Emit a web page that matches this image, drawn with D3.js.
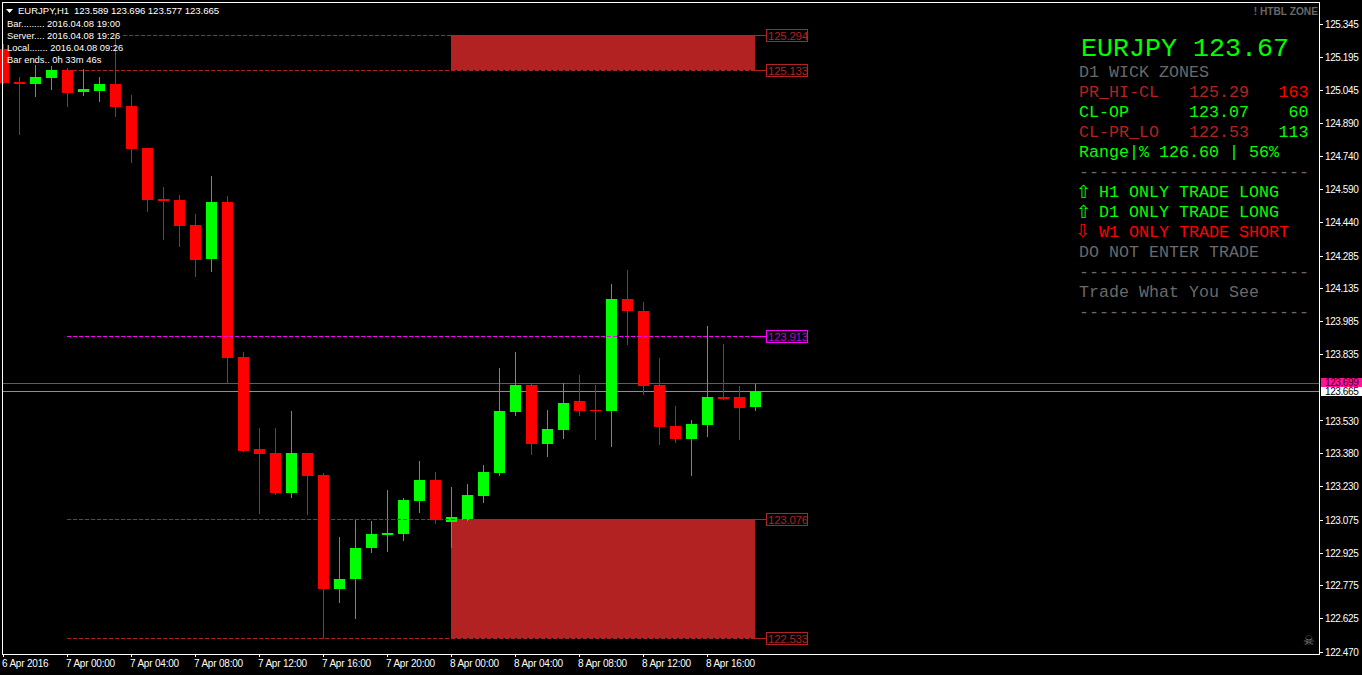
<!DOCTYPE html>
<html>
<head>
<meta charset="utf-8">
<script src="https://cdn.jsdelivr.net/npm/d3@7"></script>
<style>
  html, body { margin: 0; padding: 0; background: #000; overflow: hidden; }
  svg { display: block; }
  text { font-family: "Liberation Sans", Arial, sans-serif; }
  .mono { font-family: "Liberation Mono", "Courier New", monospace; }
</style>
</head>
<body>
<div id="chart"></div>
<script>
// H1 candles
const opens = [125.231,125.079,125.070,125.098,125.134,125.034,125.038,125.070,124.970,124.777,124.544,124.539,
  124.425,124.269,124.530,123.820,123.399,123.381,123.198,123.381,123.280,122.758,122.804,122.942,
  123.006,123.010,123.161,123.257,123.065,123.074,123.184,123.289,123.569,123.692,123.422,123.486,
  123.615,123.578,123.573,124.086,124.031,123.692,123.505,123.445,123.509,123.637,123.637,123.589];
const highs = [125.253,125.102,125.157,125.153,125.144,125.139,125.102,125.285,125.020,124.777,124.599,124.562,
  124.475,124.649,124.558,123.843,123.495,123.495,123.573,123.381,123.289,122.996,123.074,123.070,
  123.212,123.175,123.344,123.294,123.225,123.235,123.322,123.770,123.843,123.697,123.578,123.701,
  123.738,123.692,124.155,124.219,124.072,123.816,123.596,123.528,123.962,123.880,123.688,123.696];
const lows = [125.075,124.841,125.015,125.047,124.970,125.020,124.992,124.924,124.713,124.489,124.361,124.329,
  124.191,124.214,123.701,123.390,123.106,123.193,123.180,123.102,122.534,122.699,122.626,122.928,
  122.932,122.983,123.111,123.061,122.951,123.074,123.157,123.280,123.555,123.376,123.367,123.450,
  123.555,123.441,123.413,123.880,123.651,123.422,123.431,123.280,123.459,123.628,123.445,123.577];
const closes = [125.075,125.070,125.102,125.134,125.029,125.047,125.070,124.965,124.773,124.539,124.535,124.420,
  124.265,124.530,123.816,123.390,123.376,123.198,123.381,123.276,122.758,122.804,122.946,123.010,
  123.015,123.166,123.257,123.074,123.084,123.189,123.294,123.573,123.692,123.422,123.491,123.610,
  123.573,123.573,124.086,124.027,123.688,123.500,123.445,123.514,123.637,123.628,123.587,123.665];

const priceTicks = [125.345,125.195,125.045,124.890,124.740,124.590,124.440,124.285,124.135,123.985,
  123.835,123.530,123.380,123.230,123.075,122.925,122.775,122.625,122.470];
const timeBars = [0,4,8,12,16,20,24,28,32,36,40,44];
const timeLabels = ["6 Apr 2016","7 Apr 00:00","7 Apr 04:00","7 Apr 08:00","7 Apr 12:00","7 Apr 16:00",
  "7 Apr 20:00","8 Apr 00:00","8 Apr 04:00","8 Apr 08:00","8 Apr 12:00","8 Apr 16:00"];

// zones and level lines
const zoneHighs = [125.294, 123.076];
const zoneLows = [125.133, 122.533];
const zoneStartBar = 28;
const zoneEndBar = 47;
const levelPrices = [125.294, 125.133, 123.913, 123.076, 122.533];
const levelStartBars = [7.5, 4, 4, 4, 4];
const bid = 123.665;
const ask = 123.699;

const infoLines = ["Bar......... 2016.04.08 19:00","Server.... 2016.04.08 19:26","Local....... 2016.04.08 09:26","Bar ends.. 0h 33m 46s"];
const dashes = "-----------------------";
const panelTitle = "EURJPY 123.67";
const panelRows = [
  ["D1 WICK ZONES"],
  ["PR_HI-CL","125.29","163"],
  ["CL-OP","123.07","60"],
  ["CL-PR_LO","122.53","113"],
  ["Range|% 126.60 | 56%"],
  [dashes],
  ["H1 ONLY TRADE LONG"],
  ["D1 ONLY TRADE LONG"],
  ["W1 ONLY TRADE SHORT"],
  ["DO NOT ENTER TRADE"],
  [dashes],
  ["Trade What You See"],
  [dashes]
];

const width = 1362;
const height = 675;
const plot = {left: 2, top: 2, right: 1319, bottom: 654};

const lime = "#00ff00";
const red = "#ff0000";
const zoneRed = "#b22222";
const gray = "#696969";
const panelColors = [
  [gray],
  [zoneRed, zoneRed, red],
  [lime, lime, lime],
  [zoneRed, zoneRed, lime],
  [lime],
  [gray],
  [lime], [lime], [red],
  [gray], [gray], [gray], [gray]
];

const svg = d3.select("#chart").append("svg")
  .attr("width", width)
  .attr("height", height)
  .style("background", "#000");

const x = d3.scaleLinear().domain([0, 47]).range([3, 755]);
const y = d3.scaleLinear().domain([122.470, 125.345]).range([652, 24]);
const py = p => Math.round(y(p) - 0.4);

const crisp = svg.append("g").attr("shape-rendering", "crispEdges");

// bid / ask lines sit behind the candles
crisp.append("line").attr("x1", plot.left).attr("x2", plot.right)
  .attr("y1", py(ask) + 0.5).attr("y2", py(ask) + 0.5).attr("stroke", "#e0147c");
crisp.append("line").attr("x1", plot.left).attr("x2", plot.right)
  .attr("y1", py(bid) + 0.5).attr("y2", py(bid) + 0.5).attr("stroke", "#8a8f94");

// zones, the candles draw over them
crisp.append("g").selectAll("rect")
  .data(zoneHighs)
  .join("rect")
    .attr("x", x(zoneStartBar))
    .attr("width", x(zoneEndBar) - x(zoneStartBar))
    .attr("y", (d) => py(d))
    .attr("height", (d, i) => py(zoneLows[i]) - py(d))
    .attr("fill", zoneRed);

// candles
const bars = d3.range(opens.length);
const barColor = i => closes[i] >= opens[i] ? lime : red;
const wickColor = i => closes[i] >= opens[i] ? "#00e000" : "#e01010";

crisp.append("g").selectAll("line")
  .data(bars)
  .join("line")
    .attr("x1", i => x(i) + 0.5)
    .attr("x2", i => x(i) + 0.5)
    .attr("y1", i => py(highs[i]))
    .attr("y2", i => py(lows[i]) + 1)
    .attr("stroke", wickColor);

crisp.append("g").selectAll("rect")
  .data(bars)
  .join("rect")
    .attr("x", i => x(i) - 5)
    .attr("width", 11)
    .attr("y", i => py(Math.max(opens[i], closes[i])))
    .attr("height", i => Math.max(1, py(Math.min(opens[i], closes[i])) - py(Math.max(opens[i], closes[i]))))
    .attr("fill", barColor);

// level lines with price boxes
levelPrices.forEach((p, i) => {
  const c = p === 123.913 ? "#ff00ff" : zoneRed;
  const ly = py(p) + 0.5;
  crisp.append("line")
    .attr("x1", x(levelStartBars[i])).attr("x2", x(zoneEndBar))
    .attr("y1", ly).attr("y2", ly)
    .attr("stroke", c)
    .attr("stroke-dasharray", "4,2");
  crisp.append("line")
    .attr("x1", x(zoneEndBar)).attr("x2", 766)
    .attr("y1", ly).attr("y2", ly)
    .attr("stroke", c);
  crisp.append("rect")
    .attr("x", 766.5).attr("y", ly - 6)
    .attr("width", 41).attr("height", 12)
    .attr("fill", "#000").attr("stroke", c);
  svg.append("text")
    .attr("x", 768).attr("y", ly + 4.5)
    .attr("font-size", 11.5)
    .attr("letter-spacing", -0.25)
    .attr("fill", p === 123.913 ? "#c000d0" : zoneRed)
    .text(p.toFixed(3));
});

// frame
crisp.append("rect")
  .attr("x", plot.left + 0.5).attr("y", plot.top + 0.5)
  .attr("width", plot.right - plot.left).attr("height", plot.bottom - plot.top)
  .attr("fill", "none").attr("stroke", "#fff");

// price axis
const yAxis = svg.append("g")
  .attr("transform", `translate(${plot.right},0)`)
  .attr("shape-rendering", "crispEdges")
  .call(d3.axisRight(y).tickValues(priceTicks).tickSize(4).tickFormat(d3.format(".3f")));
yAxis.select(".domain").remove();
yAxis.selectAll("line").attr("stroke", "#fff");
yAxis.selectAll("text")
  .attr("x", 6)
  .attr("dy", "0.36em")
  .attr("fill", "#fff")
  .attr("font-size", 10)
  .attr("letter-spacing", -0.4)
  .attr("font-family", "Liberation Sans");

// time axis
const xAxis = svg.append("g")
  .attr("transform", `translate(0,${plot.bottom})`)
  .attr("shape-rendering", "crispEdges")
  .call(d3.axisBottom(x).tickValues(timeBars).tickSize(3).tickFormat((d, i) => timeLabels[i]));
xAxis.select(".domain").remove();
xAxis.selectAll("line").attr("stroke", "#fff");
xAxis.selectAll("text")
  .attr("text-anchor", "start")
  .attr("x", -1.5)
  .attr("y", 6)
  .attr("fill", "#fff")
  .attr("font-size", 10)
  .attr("letter-spacing", -0.2)
  .attr("font-family", "Liberation Sans");

// bid / ask tags on the axis, above the tick labels
const tags = svg.append("g");
[[ask, "#ff1493", "#40002a", 378], [bid, "#fff", "#000", 387]].forEach(([p, bg, fg, top]) => {
  tags.append("rect").attr("x", 1321).attr("y", top)
    .attr("width", 41).attr("height", 9).attr("fill", bg);
  tags.append("text").attr("x", 1325).attr("y", top + 8)
    .attr("font-size", 10).attr("letter-spacing", -0.4)
    .attr("fill", fg).text(p.toFixed(3));
});

// header and info block
svg.append("path").attr("d", "M6,9h7l-3.5,4z").attr("fill", "#fff");
svg.append("text").attr("x", 18).attr("y", 14)
  .attr("font-size", 9.5).attr("fill", "#fff").text("EURJPY,H1");
svg.append("text").attr("x", 74).attr("y", 14)
  .attr("font-size", 9.7).attr("letter-spacing", -0.1).attr("fill", "#fff")
  .text([opens[47], highs[47], lows[47], closes[47]].map(d3.format(".3f")).join(" "));
svg.append("g").selectAll("text")
  .data(infoLines)
  .join("text")
    .attr("x", 7)
    .attr("y", (d, i) => 27 + i * 12)
    .attr("font-size", 9.4)
    .attr("fill", "#fff")
    .text(d => d);

svg.append("text").attr("x", 1318).attr("y", 15).attr("text-anchor", "end")
  .attr("font-size", 10.2).attr("font-weight", "bold").attr("fill", gray).text("! HTBL ZONE");
svg.append("text").attr("x", 1302.5).attr("y", 645)
  .attr("font-family", "DejaVu Sans").attr("font-size", 13).attr("fill", "#8a8a8a").text("\u2620");

// right hand panel
const charW = 10;
const panelX = 1079;
svg.append("text").attr("class", "mono").attr("x", 1081).attr("y", 56)
  .attr("font-size", 26.67).attr("fill", lime).text(panelTitle);

const rowX = r => r >= 6 && r <= 8 ? panelX + 2 * charW : panelX;
panelRows.forEach((row, r) => {
  const rowY = 77 + r * 20;
  if (row.length === 3) {
    [0, 11].forEach((col, k) => {
      svg.append("text").attr("class", "mono")
        .attr("x", panelX + col * charW).attr("y", rowY)
        .attr("font-size", 16.67).attr("fill", panelColors[r][k]).text(row[k]);
    });
    svg.append("text").attr("class", "mono")
      .attr("x", 1308.5).attr("y", rowY).attr("text-anchor", "end")
      .attr("font-size", 16.67).attr("fill", panelColors[r][2]).text(row[2]);
  } else {
    svg.append("text").attr("class", "mono")
      .attr("x", rowX(r)).attr("y", rowY)
      .attr("font-size", 16.67).attr("fill", panelColors[r][0]).text(row[0]);
  }
});

// trend arrows in front of the H1 / D1 / W1 rows
[[6, "\u21e7", lime], [7, "\u21e7", lime], [8, "\u21e9", red]].forEach(([r, glyph, c]) => {
  svg.append("text").attr("x", r === 8 ? 1075 : 1076).attr("y", (r === 8 ? 77 : 78) + r * 20)
    .attr("font-family", "DejaVu Sans").attr("font-size", 18).attr("fill", c).text(glyph);
});
</script>
</body>
</html>
